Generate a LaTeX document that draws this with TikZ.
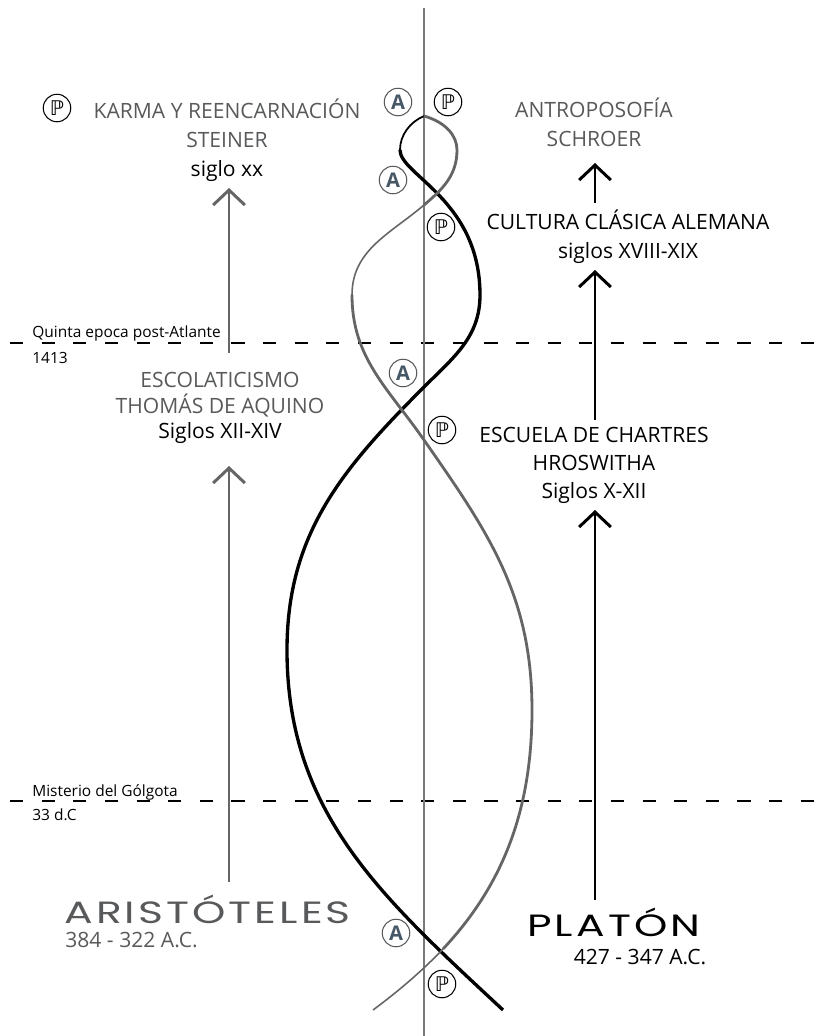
\documentclass[tikz,border=0pt]{standalone}
\usepackage{fontspec}
\setmainfont{Open Sans}
\newfontfamily\titlefont[FakeStretch=1.38, LetterSpace=10]{Poppins}
\newfontfamily\symfont{DejaVu Sans}
\usepackage{tikz}
\usetikzlibrary{arrows.meta, positioning, calc}
\usepackage{xcolor}
\definecolor{txtgray}{HTML}{58595B}
\definecolor{curvegray}{HTML}{656565}
\definecolor{axisgray}{HTML}{7A7A7A}
\definecolor{slate}{HTML}{465766}

\begin{document}
\begin{tikzpicture}[x=0.02cm, y=0.02cm,
  lbl/.style={align=center, inner sep=0pt, font=\fontsize{12}{16.5}\selectfont},
  note/.style={anchor=west, inner sep=0pt, font=\fontsize{8.8}{10}\selectfont},
  big/.style={anchor=west, inner sep=0pt, font=\titlefont\fontsize{17.5}{18}\selectfont},
  circA/.style={circle, draw=txtgray, line width=0.6pt, minimum size=0.55cm, inner sep=0pt, text=slate, font=\bfseries\fontsize{11.5}{11.5}\selectfont},
  circP/.style={circle, draw=black, line width=0.6pt, minimum size=0.55cm, inner sep=0pt, font=\symfont\fontsize{11.5}{11.5}\selectfont},
  uparrow/.style={line width=1.7pt, -{Straight Barb[length=8.5pt,width=18pt]}},
  era/.style={dash pattern=on 7.5pt off 10.5pt, line width=0.8pt}]
  \useasboundingbox (0,0) rectangle (823,-1036);

  \draw[era] (10,-343) -- (823,-343);
  \draw[era] (10,-801) -- (823,-801);
  \draw[axisgray, line width=1.1pt] (424,-8) -- (424,-1036);

  % black strand
  \draw[line width=1pt] (424,-116) .. controls (410,-122) and (400,-135) .. (400,-150);
  \draw[line width=1.9pt]
    (400,-150) .. controls (400,-175) and (480,-200) .. (480,-295)
    .. controls (480,-337) and (454,-357) .. (424,-387)
    .. controls (342,-469) and (287,-534) .. (287,-650)
    .. controls (287,-814) and (383,-898) .. (503,-1010);
  % grey strand
  \draw[curvegray, line width=1.6pt]
    (424,-116) .. controls (445,-122) and (457,-135) .. (457,-150)
    .. controls (457,-175) and (443,-189) .. (424,-205);
  \draw[curvegray, line width=0.9pt] (424,-205) .. controls (390,-234) and (352,-250) .. (352,-295);
  \draw[curvegray, line width=1.6pt]
    (352,-295) .. controls (352,-358) and (388,-388) .. (424,-440)
    .. controls (489,-533) and (532,-596) .. (532,-710)
    .. controls (532,-810) and (503,-885) .. (443,-949);
  \draw[curvegray, line width=0.9pt] (443,-949) .. controls (423,-970) and (400,-990) .. (373,-1010);

  \node[circA] (a1) at (398,-102) {A};
  \node[circP] (p1) at (448,-102) {ℙ};
  \node[circA] (a2) at (393,-180) {A};
  \node[circP] (p2) at (441,-227) {ℙ};
  \node[circA] (a3) at (403,-373) {A};
  \node[circP] (p3) at (442,-430) {ℙ};
  \node[circA] (a4) at (396,-933) {A};
  \node[circP] (p4) at (442,-984) {ℙ};
  \node[circP] (p0) at (57,-108) {ℙ};

  \node[lbl, text=txtgray] (karma) at (227,-140) {KARMA Y REENCARNACIÓN\\STEINER\\\textcolor{black}{siglo xx}};
  \node[lbl, text=txtgray, font=\fontsize{12}{14.5}\selectfont] (escol) at (220,-408) {ESCOLATICISMO\\THOMÁS DE AQUINO\\\textcolor{black}{Siglos XII-XIV}};
  \node[lbl, text=txtgray] (antro) at (594,-122) {ANTROPOSOFÍA\\SCHROER};
  \node[lbl] (cultura) at (628,-237) {CULTURA CLÁSICA ALEMANA\\siglos XVIII-XIX};
  \node[lbl, font=\fontsize{12}{16}\selectfont] (chartres) at (594,-465) {ESCUELA DE CHARTRES\\HROSWITHA\\Siglos X-XII};

  \node[note] (quinta) at (32,-333) {Quinta epoca post-Atlante};
  \node[note] (y1413) at (32,-358) {1413};
  \node[note] (golgota) at (32,-792) {Misterio del Gólgota};
  \node[note] (y33) at (32,-815) {33 d.C};

  \node[big, text=txtgray] (aris) at (64,-909) {ARISTÓTELES};
  \node[lbl, anchor=west, text=txtgray] (arisdate) at (65,-940) {384 - 322 A.C.};
  \node[big] (plato) at (527,-922) {PLATÓN};
  \node[lbl] (platodate) at (640,-957) {427 - 347 A.C.};

  \coordinate (l1) at (229,-882);
  \coordinate (l2) at (229,-466);
  \coordinate (l3) at (229,-353);
  \coordinate (l4) at (229,-188);
  \coordinate (r1) at (595,-900);
  \coordinate (r2) at (595,-510);
  \coordinate (r3) at (595,-420);
  \coordinate (r4) at (595,-270);
  \coordinate (r5) at (595,-203);
  \coordinate (r6) at (595,-163);
  \draw[uparrow, curvegray] (l1) -- (l2);
  \draw[uparrow, curvegray] (l3) -- (l4);
  \draw[uparrow] (r1) -- (r2);
  \draw[uparrow] (r3) -- (r4);
  \draw[uparrow] (r5) -- (r6);
\end{tikzpicture}
\end{document}
